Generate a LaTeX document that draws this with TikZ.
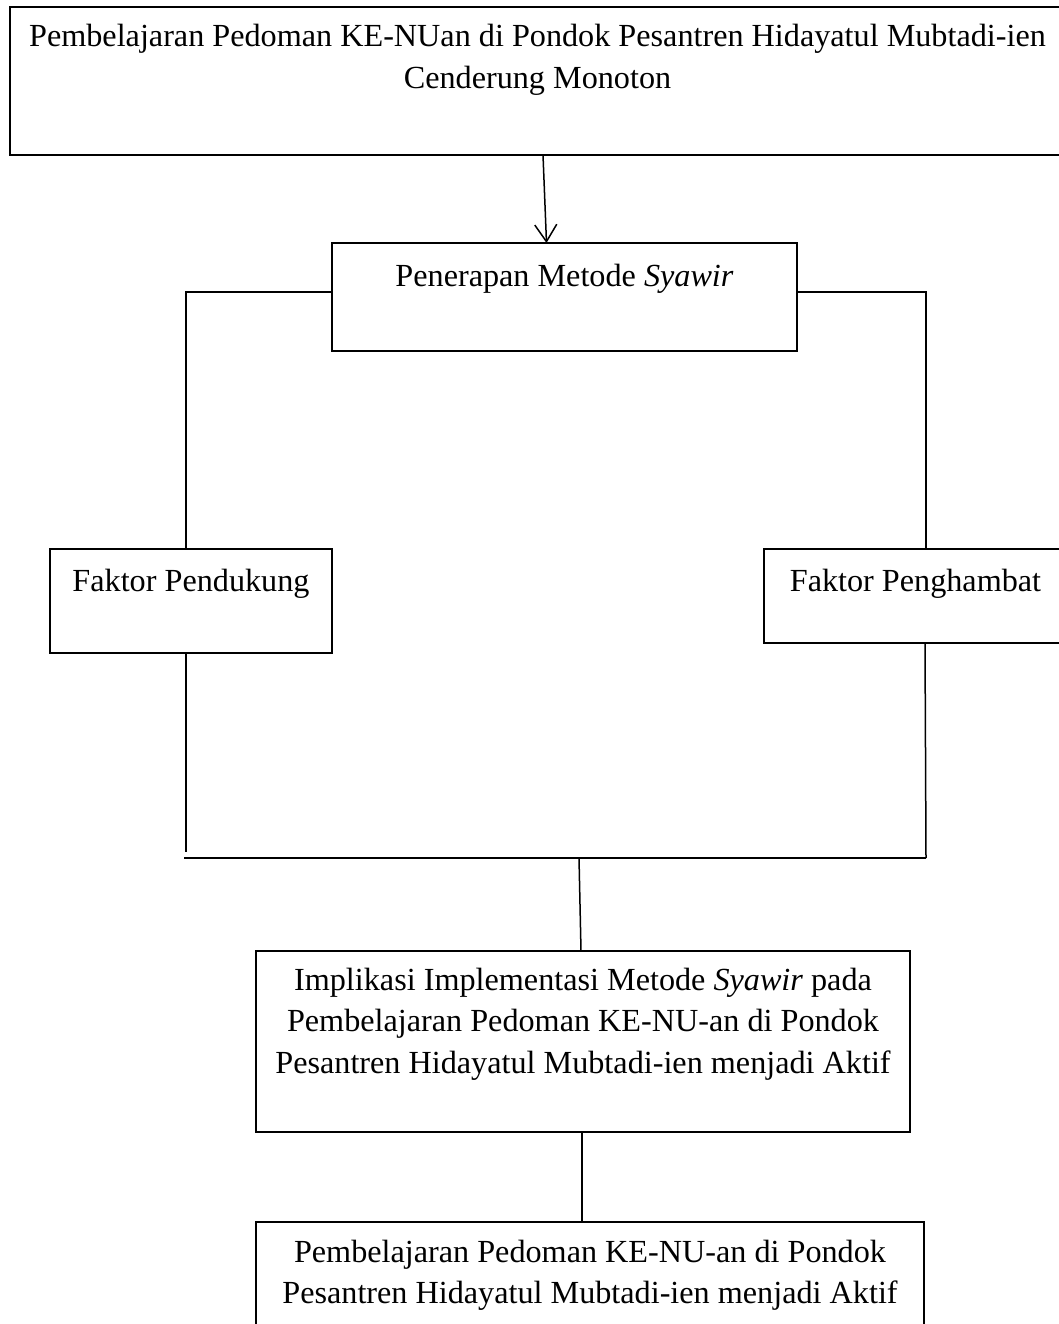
\documentclass[tikz,border=0pt]{standalone}
\usepackage{fontspec}
\setmainfont{Liberation Serif}
\usetikzlibrary{arrows.meta,calc}
\newcommand{\bxt}[4]{\begin{minipage}[c][#2][t]{#1}\fontsize{32.2}{41.5}\selectfont\centering\vspace*{#3}\strut #4\end{minipage}}
\begin{document}
\begin{tikzpicture}[x=1pt,y=-1pt,
  box/.style={draw,line width=1.1pt,inner sep=0pt,outer sep=0pt,anchor=north west},
  conn/.style={line width=1.5pt},
  arr/.style={conn,-{Straight Barb[length=17pt,width=22pt,line width=1.5pt]}}]
\useasboundingbox (0,0) rectangle (1059,1324);
\clip (0,0) rectangle (1059,1324);
\fill[white] (0,0) rectangle (1059,1324);

\node[box] (top) at (10,7) {\bxt{1055pt}{148pt}{10.95pt}{Pembelajaran Pedoman KE-NUan di Pondok Pesantren Hidayatul Mubtadi-ien\\Cenderung Monoton}};
\node[box] (pen) at (332,243) {\bxt{465pt}{108pt}{14.35pt}{Penerapan Metode \textit{Syawir}}};
\node[box] (pend) at (50,549) {\bxt{282pt}{104pt}{12.95pt}{Faktor Pendukung}};
\node[box] (peng) at (764,549) {\bxt{303pt}{94pt}{12.95pt}{Faktor Penghambat}};
\node[box] (impl) at (256,951) {\bxt{654pt}{181pt}{9.95pt}{Implikasi Implementasi Metode \textit{Syawir} pada\\Pembelajaran Pedoman KE-NU-an di Pondok\\Pesantren Hidayatul Mubtadi-ien menjadi Aktif}};
\node[box] (bot) at (256,1222) {\bxt{668pt}{130pt}{10.95pt}{Pembelajaran Pedoman KE-NU-an di Pondok\\Pesantren Hidayatul Mubtadi-ien menjadi Aktif}};

\coordinate (hl) at (184,858);
\coordinate (hr) at (926,858);
\coordinate (hm) at (579,858);
\coordinate (lend) at (186,852);

\draw[arr] ([xshift=5.5pt]top.south) -- ([xshift=-18pt]pen.north);
\draw[conn] ([yshift=5pt]pen.west) -| ([xshift=-5pt]pend.north);
\draw[conn] ([yshift=5pt]pen.east) -| ([xshift=10.5pt]peng.north);
\draw[conn] ([xshift=-5pt]pend.south) -- (lend);
\draw[conn] ([xshift=9.5pt]peng.south) -- (hr);
\draw[conn] (hl) -- (hr);
\draw[conn] (hm) -- ([xshift=-2pt]impl.north);
\draw[conn] ([xshift=-1pt]impl.south) -- ([xshift=-8pt]bot.north);
\end{tikzpicture}
\end{document}
